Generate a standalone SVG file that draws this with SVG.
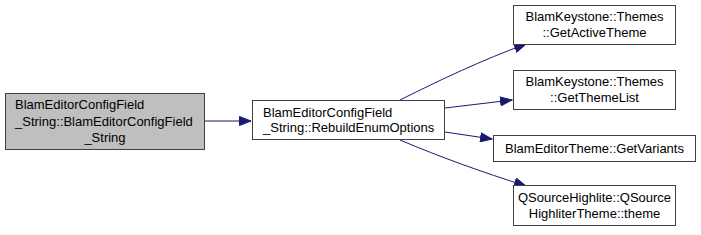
<svg xmlns="http://www.w3.org/2000/svg" width="701" height="235" viewBox="0 0 701 235">
<style>
.n{fill:#ffffff;stroke:#404040;stroke-width:1}
.root{fill:#bfbfbf;stroke:#404040;stroke-width:1}
text{font-family:"Liberation Sans",Arial,sans-serif;font-size:13px;fill:#000000}
.m{text-anchor:middle}
.e{fill:none;stroke:#191970;stroke-width:1}
</style>
<defs>
<marker id="ah" markerWidth="13" markerHeight="10" refX="12" refY="5" orient="auto" markerUnits="userSpaceOnUse">
<path d="M0.5,0.5 L12,5 L0.5,9.5 Z" fill="#191970" stroke="#191970"/>
</marker>
</defs>
<g id="connectors">
<path class="e" d="M205,121 L251,121" marker-end="url(#ah)"/>
<path class="e" d="M400,100 C440,80 482,60 526,44" marker-end="url(#ah)"/>
<path class="e" d="M445,108 L512,100" marker-end="url(#ah)"/>
<path class="e" d="M445,132 L492,139" marker-end="url(#ah)"/>
<path class="e" d="M400,140 C440,157 482,172 526,186" marker-end="url(#ah)"/>
</g>
<g id="node-root">
<rect class="root" x="5.5" y="93.5" width="199" height="56"/>
<text x="15" y="109">BlamEditorConfigField</text>
<text x="15" y="126">_String::BlamEditorConfigField</text>
<text class="m" x="105" y="142">_String</text>
</g>
<g id="node-rebuild">
<rect class="n" x="252.5" y="100.5" width="192" height="39"/>
<text x="263" y="117">BlamEditorConfigField</text>
<text x="263" y="132">_String::RebuildEnumOptions</text>
</g>
<g id="node-getactivetheme">
<rect class="n" x="513.5" y="5.5" width="162" height="39"/>
<text class="m" x="594.5" y="21">BlamKeystone::Themes</text>
<text class="m" x="594.5" y="37">::GetActiveTheme</text>
</g>
<g id="node-getthemelist">
<rect class="n" x="513.5" y="70.5" width="162" height="39"/>
<text class="m" x="594.5" y="86">BlamKeystone::Themes</text>
<text class="m" x="594.5" y="102">::GetThemeList</text>
</g>
<g id="node-getvariants">
<rect class="n" x="493.5" y="135.5" width="202" height="26"/>
<text class="m" x="594.5" y="153">BlamEditorTheme::GetVariants</text>
</g>
<g id="node-theme">
<rect class="n" x="513.5" y="185.5" width="162" height="40"/>
<text class="m" x="594.5" y="202">QSourceHighlite::QSource</text>
<text class="m" x="594.5" y="218">HighliterTheme::theme</text>
</g>
</svg>
